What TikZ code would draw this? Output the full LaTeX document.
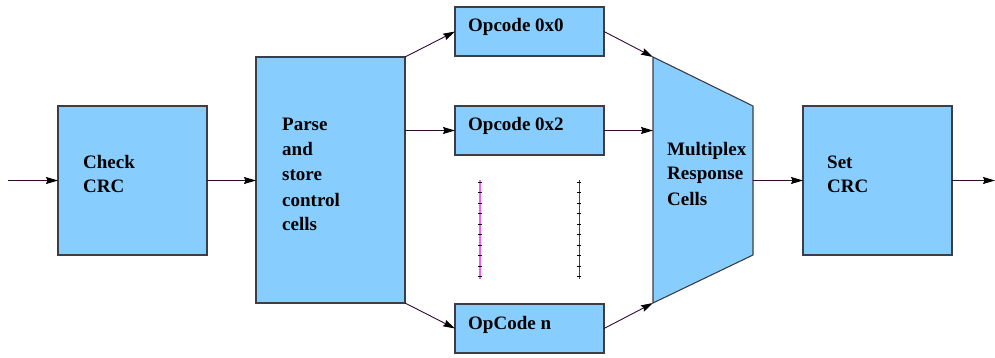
\documentclass[tikz,border=0pt]{standalone}
\usepackage{fontspec}
\setmainfont{Liberation Serif}
\usetikzlibrary{arrows.meta}
\definecolor{boxfill}{RGB}{135,206,255}
\definecolor{boxedge}{RGB}{60,62,70}
\definecolor{wire}{RGB}{50,10,50}
\definecolor{magl}{RGB}{235,100,235}
\definecolor{magd}{RGB}{170,0,170}
\begin{document}
\begin{tikzpicture}[x=1pt,y=-1pt,
  blk/.style={draw=boxedge, fill=boxfill, line width=1.1pt, inner sep=0pt, outer sep=0pt, anchor=north west},
  lbl/.style={anchor=base west, inner sep=0pt, font=\fontsize{19}{25}\selectfont\bfseries},
  conn/.style={draw=wire, line width=0.9pt, -{Stealth[length=12pt,width=7pt,inset=1.5pt,color=black]}},
  tick/.style={draw=black, line width=1pt}]
\useasboundingbox (0,0) rectangle (995,358);

% blocks
\node[blk, minimum width=149pt, minimum height=149pt] (chk) at (58,106) {};
\node[blk, minimum width=149pt, minimum height=246pt] (prs) at (256,57) {};
\node[blk, minimum width=149pt, minimum height=49pt] (op0) at (455,7) {};
\node[blk, minimum width=149pt, minimum height=49pt] (op2) at (455,106) {};
\node[blk, minimum width=149pt, minimum height=49pt] (opn) at (455,304) {};
\node[blk, minimum width=149pt, minimum height=149pt] (set) at (803,106) {};

% multiplexer trapezoid
\coordinate (m1) at (653,57);
\coordinate (m2) at (753,106);
\coordinate (m3) at (753,255);
\coordinate (m4) at (653,303);
\draw[draw=boxedge, fill=boxfill, line width=1.1pt] (m1) -- (m2) -- (m3) -- (m4) -- cycle;
\coordinate (mmid) at (653,130.5);
\coordinate (mout) at (753,180.5);

% labels
\node[lbl] (t1) at (83,168) {Check};
\node[lbl] (t2) at (83,193) {CRC};
\node[lbl] (t3) at (282,131) {Parse};
\node[lbl] (t4) at (282,156) {and};
\node[lbl] (t5) at (282,181) {store};
\node[lbl] (t6) at (282,206) {control};
\node[lbl] (t7) at (282,230) {cells};
\node[lbl] (t8) at (468,32) {Opcode 0x0};
\node[lbl] (t9) at (468,131) {Opcode 0x2};
\node[lbl] (t10) at (468,329) {OpCode n};
\node[lbl] (t11) at (667,156) {Multiplex};
\node[lbl] (t12) at (667,180) {Response};
\node[lbl] (t13) at (667,205) {Cells};
\node[lbl] (t14) at (827,168) {Set};
\node[lbl] (t15) at (827,193) {CRC};

% connectors
\coordinate (in) at (8,180.5);
\coordinate (out) at (995,180.5);
\draw[conn] (in) -- (chk.west);
\draw[conn] (chk.east) -- (chk.east -| prs.west);
\draw[conn] (prs.north east) -- (op0.west);
\draw[conn] (prs.east |- op2.west) -- (op2.west);
\draw[conn] (prs.south east) -- (opn.west);
\draw[conn] (op0.east) -- (m1);
\draw[conn] (op2.east) -- (mmid);
\draw[conn] (opn.east) -- (m4);
\draw[conn] (mout) -- (set.west);
\draw[conn] (set.east) -- (out);

% dotted continuation lines
\coordinate (da1) at (480,180);
\coordinate (da2) at (480,279);
\coordinate (db1) at (579,180);
\coordinate (db2) at (579,279);
\draw[magl, line width=2pt] (da1) -- (da2);
\draw[magd, line width=1pt] (db1) -- (db2);
\foreach \i in {0,...,9} {
  \draw[tick] (478,182.3+10.52*\i) -- (482,182.3+10.52*\i);
  \draw[tick] (577,182.3+10.52*\i) -- (581,182.3+10.52*\i);
}
\end{tikzpicture}
\end{document}
